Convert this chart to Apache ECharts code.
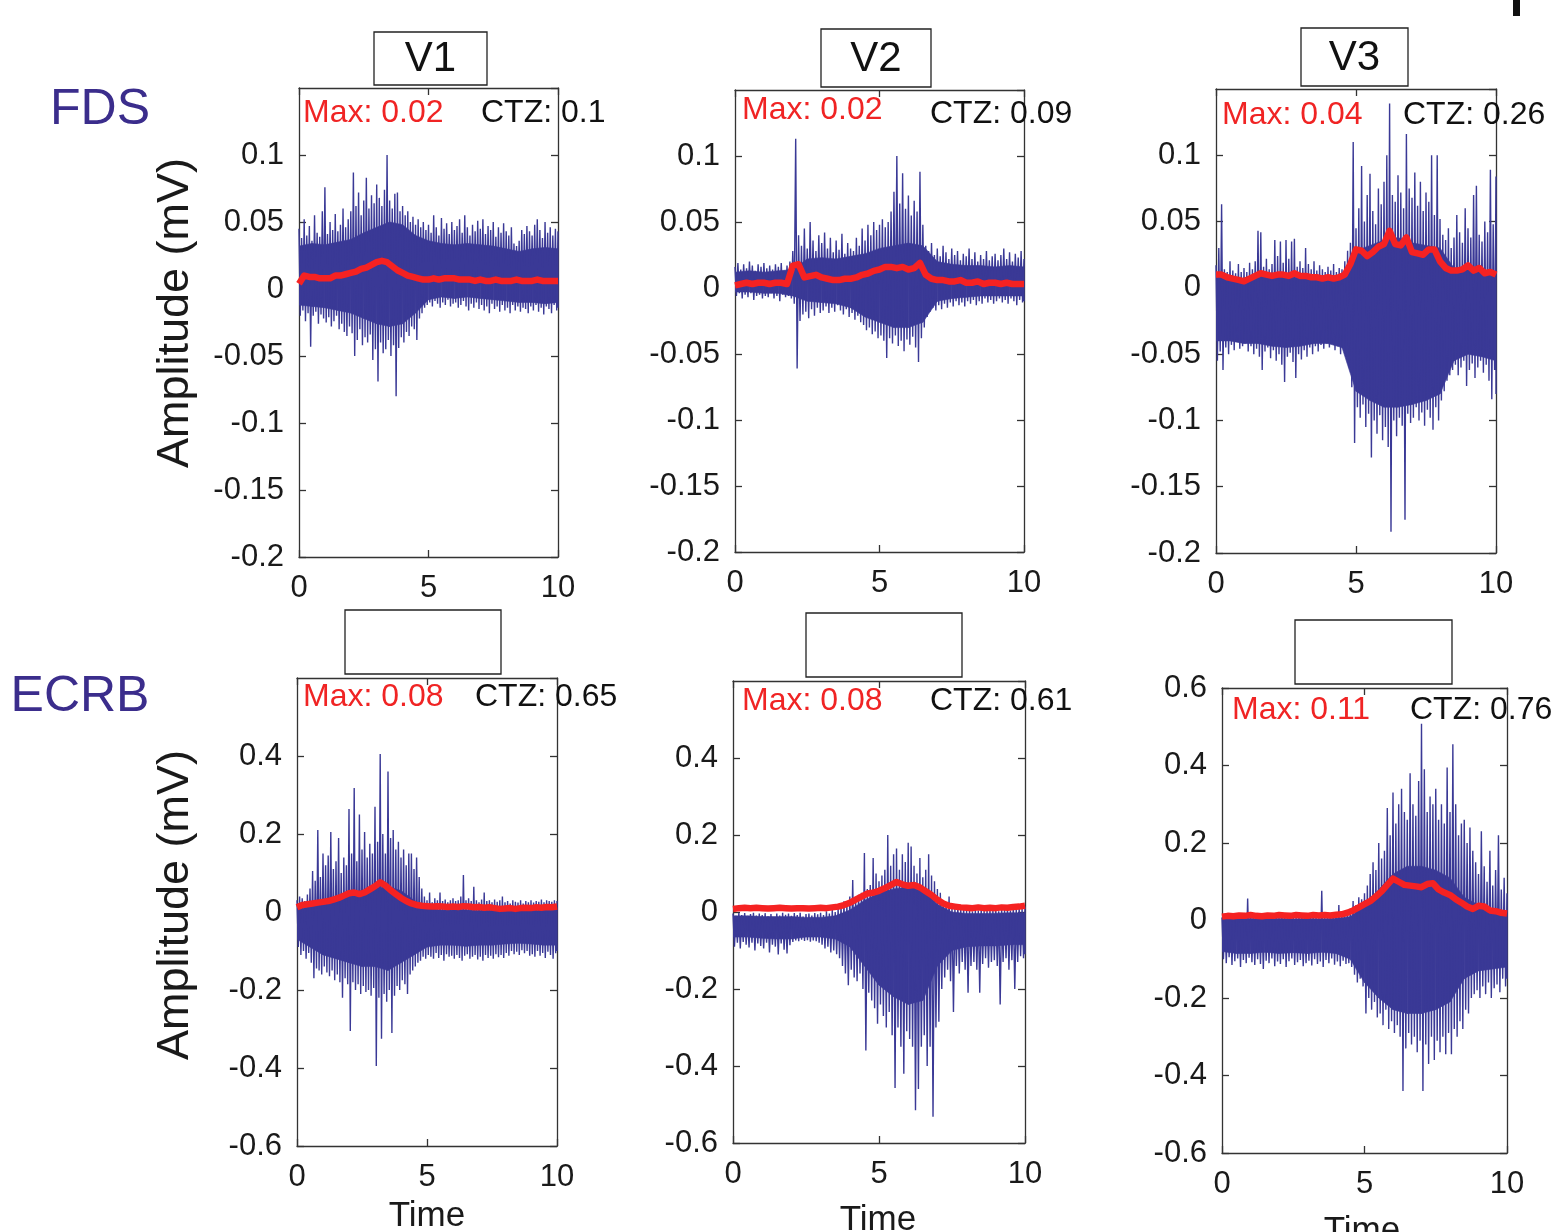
<!DOCTYPE html>
<html>
<head>
<meta charset="utf-8">
<script src="https://cdn.jsdelivr.net/npm/echarts@6/dist/echarts.min.js"></script>
<style>
html,body{margin:0;padding:0;background:#fff}
#chart{width:1557px;height:1232px}
</style>
</head>
<body>
<div id="chart"></div>
<script>
// Raw trace: per-window peak (Hi) and trough (Lo), one window every 0.1 s over 0–10 s.
// Dense body of the trace (CoreHi / CoreLo), every 0.5 s.
// Envelope (Env): RMS envelope sampled every 0.2 s.
const SAMPLE_STEP = 0.1;
const CORE_STEP = 0.5;
const ENV_STEP = 0.2;

const muscles = ['FDS', 'ECRB'];
const conditions = ['V1', 'V2', 'V3'];
const ctzValues = ['0.1', '0.09', '0.26', '0.65', '0.61', '0.76'];

// ---- FDS, V1 ----
const fdsV1Hi = [
0.045,0.038,0.052,0.040,0.047,0.036,0.055,0.042,0.039,0.058,
0.076,0.041,0.050,0.044,0.056,0.043,0.048,0.060,0.046,0.052,
0.058,0.087,0.062,0.072,0.055,0.066,0.083,0.060,0.070,0.064,
0.078,0.068,0.062,0.074,0.100,0.066,0.060,0.071,0.072,0.058,
0.062,0.055,0.058,0.050,0.054,0.048,0.052,0.046,0.050,0.044,
0.048,0.042,0.055,0.046,0.040,0.053,0.045,0.049,0.041,0.050,
0.044,0.047,0.052,0.042,0.055,0.046,0.040,0.048,0.043,0.051,
0.045,0.052,0.041,0.047,0.044,0.050,0.039,0.046,0.042,0.049,
0.043,0.040,0.046,0.034,0.032,0.036,0.044,0.041,0.047,0.043,
0.040,0.048,0.052,0.044,0.038,0.050,0.042,0.046,0.040,0.045,
0.043];
const fdsV1Lo = [
-0.020,-0.016,-0.024,-0.018,-0.043,-0.020,-0.017,-0.026,-0.019,-0.022,
-0.025,-0.021,-0.028,-0.024,-0.020,-0.030,-0.026,-0.032,-0.035,-0.028,
-0.033,-0.050,-0.038,-0.030,-0.042,-0.036,-0.040,-0.034,-0.053,-0.045,
-0.069,-0.040,-0.048,-0.045,-0.038,-0.050,-0.042,-0.080,-0.044,-0.036,
-0.040,-0.032,-0.035,-0.028,-0.030,-0.038,-0.022,-0.018,-0.014,-0.012,
-0.010,-0.013,-0.009,-0.011,-0.014,-0.010,-0.012,-0.008,-0.013,-0.011,
-0.010,-0.014,-0.012,-0.009,-0.013,-0.016,-0.011,-0.014,-0.010,-0.015,
-0.012,-0.016,-0.013,-0.018,-0.011,-0.015,-0.013,-0.017,-0.012,-0.016,
-0.014,-0.018,-0.012,-0.016,-0.013,-0.017,-0.014,-0.015,-0.018,-0.013,
-0.016,-0.012,-0.017,-0.014,-0.019,-0.013,-0.015,-0.018,-0.012,-0.016,
-0.014];
const fdsV1CoreHi = [0.032,0.034,0.033,0.035,0.037,0.042,0.046,0.050,0.048,0.040,0.036,0.034,0.033,0.034,0.033,0.032,0.030,0.028,0.030,0.031,0.030];
const fdsV1CoreLo = [-0.012,-0.013,-0.014,-0.016,-0.018,-0.022,-0.026,-0.028,-0.026,-0.018,-0.008,-0.006,-0.007,-0.006,-0.007,-0.008,-0.009,-0.010,-0.010,-0.011,-0.010];
const fdsV1Env = [
0.004,0.010,0.009,0.009,0.008,0.008,0.008,0.010,0.010,0.011,
0.012,0.013,0.015,0.016,0.018,0.020,0.021,0.020,0.017,0.014,
0.012,0.010,0.009,0.008,0.007,0.007,0.008,0.007,0.008,0.008,
0.008,0.007,0.007,0.007,0.006,0.007,0.006,0.006,0.007,0.006,
0.006,0.006,0.007,0.006,0.006,0.006,0.007,0.006,0.006,0.006,
0.006];

// ---- FDS, V2 ----
const fdsV2Hi = [
0.016,0.019,0.014,0.018,0.015,0.020,0.017,0.013,0.018,0.016,
0.019,0.015,0.017,0.014,0.018,0.016,0.019,0.013,0.017,0.020,
0.028,0.113,0.040,0.032,0.045,0.030,0.050,0.036,0.028,0.040,
0.034,0.042,0.030,0.038,0.027,0.036,0.029,0.041,0.026,0.034,
0.030,0.028,0.038,0.032,0.045,0.036,0.048,0.040,0.050,0.044,
0.048,0.052,0.046,0.050,0.058,0.073,0.100,0.064,0.087,0.060,
0.070,0.055,0.066,0.058,0.088,0.048,0.032,0.028,0.034,0.025,
0.030,0.024,0.032,0.027,0.022,0.030,0.025,0.028,0.021,0.026,
0.024,0.030,0.022,0.027,0.020,0.025,0.022,0.028,0.021,0.024,
0.026,0.021,0.025,0.030,0.022,0.027,0.020,0.026,0.023,0.028,
0.022];
const fdsV2Lo = [
-0.006,-0.004,-0.008,-0.005,-0.007,-0.004,-0.009,-0.006,-0.005,-0.008,
-0.006,-0.007,-0.004,-0.008,-0.006,-0.010,-0.005,-0.007,-0.006,-0.008,
-0.012,-0.061,-0.025,-0.020,-0.018,-0.023,-0.016,-0.021,-0.015,-0.019,
-0.017,-0.014,-0.019,-0.015,-0.018,-0.013,-0.017,-0.020,-0.016,-0.022,
-0.019,-0.024,-0.021,-0.026,-0.028,-0.032,-0.030,-0.035,-0.033,-0.038,
-0.036,-0.040,-0.053,-0.038,-0.042,-0.036,-0.044,-0.040,-0.048,-0.039,
-0.043,-0.037,-0.045,-0.056,-0.038,-0.030,-0.022,-0.018,-0.015,-0.017,
-0.013,-0.016,-0.012,-0.015,-0.011,-0.014,-0.010,-0.013,-0.011,-0.014,
-0.010,-0.012,-0.009,-0.013,-0.010,-0.012,-0.008,-0.011,-0.009,-0.012,
-0.010,-0.008,-0.011,-0.009,-0.012,-0.008,-0.010,-0.013,-0.009,-0.011,
-0.010];
const fdsV2CoreHi = [0.012,0.013,0.012,0.013,0.014,0.022,0.023,0.022,0.024,0.026,0.030,0.032,0.034,0.032,0.020,0.018,0.017,0.017,0.016,0.017,0.016];
const fdsV2CoreLo = [-0.003,-0.003,-0.004,-0.004,-0.006,-0.010,-0.011,-0.012,-0.015,-0.022,-0.026,-0.030,-0.030,-0.026,-0.010,-0.008,-0.007,-0.006,-0.006,-0.006,-0.006];
const fdsV2Env = [
0.002,0.003,0.004,0.003,0.004,0.004,0.003,0.004,0.004,0.003,
0.017,0.018,0.008,0.009,0.010,0.008,0.007,0.006,0.006,0.007,
0.007,0.008,0.010,0.011,0.013,0.014,0.016,0.016,0.015,0.016,
0.014,0.015,0.019,0.010,0.007,0.006,0.006,0.005,0.005,0.006,
0.004,0.004,0.005,0.003,0.004,0.004,0.003,0.004,0.003,0.003,
0.003];

// ---- FDS, V3 ----
const fdsV3Hi = [
0.017,0.030,0.063,0.014,0.012,0.020,0.013,0.011,0.018,0.012,
0.015,0.012,0.019,0.014,0.020,0.043,0.042,0.016,0.022,0.014,
0.018,0.036,0.024,0.035,0.019,0.036,0.022,0.035,0.037,0.016,
0.020,0.015,0.030,0.018,0.014,0.020,0.013,0.017,0.014,0.012,
0.016,0.013,0.018,0.012,0.015,0.014,0.020,0.028,0.034,0.110,
0.045,0.060,0.092,0.050,0.070,0.086,0.058,0.048,0.075,0.063,
0.080,0.100,0.139,0.070,0.065,0.085,0.072,0.060,0.116,0.075,
0.068,0.087,0.062,0.080,0.058,0.072,0.065,0.100,0.055,0.100,
0.052,0.040,0.036,0.045,0.030,0.038,0.055,0.042,0.034,0.060,
0.045,0.038,0.070,0.077,0.040,0.035,0.050,0.042,0.089,0.048,
0.084];
const fdsV3Lo = [
-0.055,-0.048,-0.062,-0.045,-0.050,-0.043,-0.047,-0.040,-0.046,-0.044,
-0.042,-0.048,-0.044,-0.050,-0.046,-0.052,-0.062,-0.048,-0.045,-0.053,
-0.047,-0.055,-0.050,-0.058,-0.071,-0.052,-0.049,-0.056,-0.068,-0.050,
-0.054,-0.047,-0.052,-0.045,-0.050,-0.044,-0.048,-0.043,-0.046,-0.042,
-0.045,-0.041,-0.047,-0.044,-0.050,-0.046,-0.052,-0.060,-0.075,-0.117,
-0.090,-0.098,-0.088,-0.105,-0.095,-0.128,-0.100,-0.110,-0.096,-0.115,
-0.105,-0.120,-0.184,-0.100,-0.112,-0.098,-0.104,-0.175,-0.095,-0.102,
-0.098,-0.090,-0.100,-0.094,-0.104,-0.092,-0.098,-0.107,-0.090,-0.100,
-0.085,-0.078,-0.070,-0.066,-0.062,-0.058,-0.066,-0.060,-0.055,-0.074,
-0.062,-0.057,-0.068,-0.060,-0.055,-0.064,-0.058,-0.070,-0.084,-0.062,
-0.080];
const fdsV3CoreHi = [0.008,0.007,0.006,0.008,0.009,0.008,0.008,0.007,0.007,0.008,0.028,0.032,0.036,0.038,0.034,0.032,0.030,0.015,0.014,0.013,0.012];
const fdsV3CoreLo = [-0.040,-0.040,-0.042,-0.042,-0.044,-0.045,-0.044,-0.042,-0.042,-0.045,-0.078,-0.085,-0.090,-0.090,-0.088,-0.085,-0.080,-0.055,-0.050,-0.052,-0.055];
const fdsV3Env = [
0.010,0.010,0.008,0.007,0.006,0.005,0.007,0.009,0.011,0.010,
0.009,0.010,0.010,0.009,0.011,0.009,0.009,0.008,0.008,0.007,
0.008,0.007,0.008,0.010,0.018,0.029,0.028,0.024,0.027,0.031,
0.033,0.043,0.033,0.032,0.038,0.027,0.026,0.025,0.029,0.029,
0.020,0.015,0.013,0.013,0.014,0.017,0.013,0.015,0.011,0.012,
0.010];

// ---- ECRB, V1 ----
const ecrbV1Hi = [
0.030,0.040,0.035,0.028,0.045,0.060,0.105,0.080,0.210,0.090,
0.150,0.120,0.145,0.205,0.110,0.130,0.190,0.100,0.140,0.120,
0.264,0.150,0.318,0.130,0.250,0.160,0.205,0.140,0.175,0.150,
0.270,0.180,0.405,0.200,0.150,0.360,0.190,0.210,0.160,0.180,
0.140,0.160,0.120,0.150,0.150,0.110,0.140,0.090,0.060,0.040,
0.030,0.050,0.025,0.035,0.030,0.050,0.028,0.032,0.025,0.030,
0.035,0.028,0.030,0.040,0.095,0.030,0.035,0.028,0.065,0.030,
0.025,0.032,0.050,0.028,0.030,0.025,0.032,0.026,0.030,0.040,
0.025,0.028,0.022,0.030,0.026,0.024,0.030,0.022,0.028,0.025,
0.030,0.024,0.028,0.026,0.032,0.025,0.030,0.028,0.026,0.030,
0.028];
const ecrbV1Lo = [
-0.090,-0.110,-0.100,-0.120,-0.105,-0.130,-0.170,-0.145,-0.150,-0.160,
-0.140,-0.155,-0.165,-0.150,-0.175,-0.160,-0.180,-0.220,-0.170,-0.185,
-0.305,-0.180,-0.200,-0.185,-0.210,-0.190,-0.205,-0.200,-0.215,-0.195,
-0.395,-0.220,-0.325,-0.210,-0.230,-0.200,-0.310,-0.215,-0.190,-0.200,
-0.175,-0.185,-0.210,-0.160,-0.150,-0.140,-0.130,-0.125,-0.115,-0.120,
-0.110,-0.115,-0.120,-0.105,-0.118,-0.110,-0.125,-0.108,-0.115,-0.112,
-0.120,-0.110,-0.118,-0.125,-0.112,-0.108,-0.120,-0.115,-0.110,-0.122,
-0.115,-0.125,-0.110,-0.118,-0.112,-0.120,-0.108,-0.116,-0.110,-0.118,
-0.105,-0.112,-0.100,-0.108,-0.102,-0.110,-0.098,-0.106,-0.100,-0.112,
-0.108,-0.115,-0.100,-0.112,-0.105,-0.118,-0.102,-0.110,-0.120,-0.106,
-0.100];
const ecrbV1CoreHi = [0.005,0.015,0.030,0.040,0.050,0.055,0.060,0.065,0.055,0.030,0.010,0.005,0.005,0.005,0.004,0.004,0.003,0.004,0.004,0.005,0.005];
const ecrbV1CoreLo = [-0.070,-0.090,-0.110,-0.120,-0.130,-0.140,-0.140,-0.150,-0.130,-0.110,-0.090,-0.085,-0.085,-0.088,-0.085,-0.085,-0.082,-0.080,-0.082,-0.085,-0.085];
const ecrbV1Env = [
0.012,0.018,0.020,0.022,0.024,0.026,0.028,0.032,0.036,0.042,
0.048,0.050,0.046,0.050,0.058,0.066,0.076,0.068,0.056,0.046,
0.036,0.028,0.022,0.018,0.016,0.015,0.014,0.015,0.014,0.013,
0.014,0.013,0.015,0.014,0.012,0.013,0.011,0.012,0.010,0.008,
0.009,0.010,0.008,0.010,0.011,0.010,0.012,0.011,0.013,0.012,
0.014];

// ---- ECRB, V2 ----
const ecrbV2Hi = [
-0.004,-0.010,-0.002,-0.008,-0.003,-0.012,-0.005,-0.002,-0.009,-0.004,
-0.008,-0.003,-0.011,-0.005,-0.014,-0.004,-0.009,-0.002,-0.007,-0.004,
-0.010,-0.003,-0.008,-0.002,-0.012,-0.005,-0.004,-0.009,-0.003,-0.006,
-0.002,-0.008,0.002,-0.004,0.005,0.000,0.010,0.018,0.028,0.022,
0.040,0.083,0.035,0.045,0.050,0.153,0.060,0.070,0.140,0.100,
0.080,0.095,0.110,0.200,0.120,0.150,0.165,0.110,0.150,0.130,
0.180,0.170,0.120,0.100,0.140,0.090,0.110,0.150,0.095,0.080,
0.060,0.050,0.030,0.020,0.040,0.015,0.010,0.020,0.008,0.012,
0.005,0.010,0.002,0.008,0.004,0.012,0.003,0.006,0.010,0.004,
0.008,0.002,0.010,0.005,0.012,0.004,0.015,0.008,0.012,0.010,
0.014];
const ecrbV2Lo = [
-0.090,-0.080,-0.095,-0.078,-0.085,-0.092,-0.080,-0.100,-0.082,-0.088,
-0.095,-0.080,-0.105,-0.085,-0.090,-0.110,-0.082,-0.098,-0.108,-0.086,
-0.078,-0.074,-0.076,-0.072,-0.075,-0.073,-0.077,-0.074,-0.076,-0.080,
-0.085,-0.095,-0.090,-0.105,-0.100,-0.110,-0.120,-0.140,-0.160,-0.190,
-0.150,-0.170,-0.180,-0.160,-0.200,-0.360,-0.210,-0.230,-0.250,-0.290,
-0.240,-0.270,-0.300,-0.260,-0.320,-0.457,-0.300,-0.350,-0.420,-0.310,
-0.330,-0.350,-0.515,-0.460,-0.350,-0.320,-0.400,-0.350,-0.532,-0.300,
-0.285,-0.200,-0.170,-0.150,-0.180,-0.260,-0.140,-0.160,-0.130,-0.150,
-0.210,-0.140,-0.130,-0.150,-0.210,-0.135,-0.120,-0.145,-0.130,-0.125,
-0.140,-0.240,-0.130,-0.120,-0.150,-0.125,-0.200,-0.130,-0.115,-0.120,
-0.110];
const ecrbV2CoreHi = [-0.010,-0.010,-0.012,-0.012,-0.012,-0.014,-0.014,-0.010,0.005,0.030,0.050,0.060,0.065,0.060,0.020,0.000,-0.004,-0.004,-0.003,-0.002,-0.002];
const ecrbV2CoreLo = [-0.065,-0.065,-0.068,-0.070,-0.070,-0.065,-0.065,-0.070,-0.090,-0.140,-0.190,-0.220,-0.240,-0.230,-0.140,-0.100,-0.090,-0.088,-0.088,-0.085,-0.085];
const ecrbV2Env = [
0.008,0.010,0.011,0.010,0.011,0.010,0.009,0.010,0.011,0.010,
0.009,0.010,0.010,0.009,0.010,0.011,0.010,0.012,0.014,0.018,
0.024,0.032,0.040,0.048,0.050,0.055,0.062,0.070,0.078,0.072,
0.068,0.070,0.064,0.054,0.044,0.032,0.022,0.016,0.014,0.012,
0.011,0.010,0.012,0.010,0.011,0.010,0.012,0.011,0.013,0.014,
0.016];

// ---- ECRB, V3 ----
const ecrbV3Hi = [
0.008,0.012,0.006,0.010,0.004,0.012,0.008,0.014,0.010,0.057,
0.010,0.006,0.012,0.008,0.014,0.010,0.006,0.012,0.008,0.011,
0.006,0.012,0.009,0.014,0.007,0.011,0.008,0.013,0.010,0.006,
0.012,0.008,0.014,0.010,0.007,0.077,0.011,0.008,0.013,0.010,
0.015,0.040,0.012,0.018,0.022,0.030,0.050,0.040,0.060,0.055,
0.070,0.090,0.120,0.150,0.130,0.200,0.160,0.180,0.290,0.220,
0.330,0.250,0.300,0.340,0.280,0.260,0.380,0.300,0.270,0.360,
0.508,0.390,0.280,0.320,0.300,0.340,0.260,0.300,0.250,0.395,
0.280,0.455,0.300,0.220,0.250,0.260,0.200,0.240,0.180,0.150,
0.120,0.230,0.140,0.100,0.180,0.090,0.130,0.220,0.080,0.110,
0.070];
const ecrbV3Lo = [
-0.100,-0.110,-0.095,-0.115,-0.105,-0.098,-0.120,-0.102,-0.110,-0.096,
-0.108,-0.115,-0.100,-0.112,-0.125,-0.104,-0.110,-0.098,-0.118,-0.106,
-0.112,-0.100,-0.120,-0.105,-0.098,-0.115,-0.108,-0.102,-0.118,-0.110,
-0.104,-0.116,-0.100,-0.112,-0.106,-0.120,-0.102,-0.110,-0.098,-0.114,
-0.106,-0.118,-0.104,-0.112,-0.110,-0.120,-0.140,-0.160,-0.150,-0.170,
-0.240,-0.200,-0.230,-0.210,-0.250,-0.240,-0.270,-0.230,-0.280,-0.260,
-0.290,-0.270,-0.300,-0.440,-0.330,-0.290,-0.320,-0.300,-0.340,-0.310,
-0.440,-0.320,-0.370,-0.300,-0.360,-0.310,-0.340,-0.300,-0.345,-0.290,
-0.345,-0.280,-0.300,-0.260,-0.280,-0.230,-0.240,-0.200,-0.190,-0.180,
-0.200,-0.170,-0.190,-0.160,-0.200,-0.175,-0.165,-0.185,-0.150,-0.170,
-0.150];
const ecrbV3CoreHi = [0.004,0.004,0.005,0.004,0.005,0.004,0.005,0.004,0.006,0.010,0.040,0.080,0.120,0.140,0.140,0.130,0.110,0.060,0.040,0.030,0.025];
const ecrbV3CoreLo = [-0.080,-0.085,-0.085,-0.082,-0.085,-0.083,-0.085,-0.082,-0.085,-0.100,-0.160,-0.200,-0.230,-0.240,-0.240,-0.230,-0.210,-0.150,-0.130,-0.125,-0.120];
const ecrbV3Env = [
0.010,0.012,0.011,0.013,0.012,0.014,0.012,0.011,0.013,0.012,
0.014,0.013,0.012,0.014,0.013,0.012,0.014,0.013,0.014,0.013,
0.015,0.016,0.020,0.026,0.034,0.042,0.050,0.062,0.075,0.092,
0.108,0.100,0.092,0.090,0.088,0.086,0.094,0.096,0.080,0.072,
0.066,0.055,0.046,0.036,0.030,0.038,0.036,0.026,0.024,0.020,
0.018];

// ---------------------------------------------------------------
const FONT = "'Liberation Sans', Arial, Helvetica, sans-serif";
const TRACE_COLOR = '#3a3996';
const ENV_COLOR = '#f52222';
const AXIS_COLOR = '#333333';
const TEXT_COLOR = '#1a1a1a';
const LABEL_COLOR = '#3b2d8c';

const fdsScale = { min: -0.2, max: 0.15, interval: 0.05 };
const ecrbScale = { min: -0.6, max: 0.6, interval: 0.2 };

const panels = [
  { hi: fdsV1Hi,  lo: fdsV1Lo,  coreHi: fdsV1CoreHi,  coreLo: fdsV1CoreLo,  env: fdsV1Env,  scale: fdsScale,  showTop: false,
    rect: { left: 299, top: 88, width: 259, height: 469 }, maxAt: [303, 113], ctzAt: [481, 113],
    box: [374, 32, 113, 53] },
  { hi: fdsV2Hi,  lo: fdsV2Lo,  coreHi: fdsV2CoreHi,  coreLo: fdsV2CoreLo,  env: fdsV2Env,  scale: fdsScale,  showTop: false,
    rect: { left: 735, top: 90, width: 289, height: 462 }, maxAt: [742, 110], ctzAt: [930, 114],
    box: [821, 29, 110, 58] },
  { hi: fdsV3Hi,  lo: fdsV3Lo,  coreHi: fdsV3CoreHi,  coreLo: fdsV3CoreLo,  env: fdsV3Env,  scale: fdsScale,  showTop: false,
    rect: { left: 1216, top: 89, width: 280, height: 464 }, maxAt: [1222, 115], ctzAt: [1403, 115],
    box: [1301, 28, 107, 58] },
  { hi: ecrbV1Hi, lo: ecrbV1Lo, coreHi: ecrbV1CoreHi, coreLo: ecrbV1CoreLo, env: ecrbV1Env, scale: ecrbScale, showTop: false,
    rect: { left: 297, top: 678, width: 260, height: 468 }, maxAt: [303, 697], ctzAt: [475, 697],
    box: [345, 610, 156, 64] },
  { hi: ecrbV2Hi, lo: ecrbV2Lo, coreHi: ecrbV2CoreHi, coreLo: ecrbV2CoreLo, env: ecrbV2Env, scale: ecrbScale, showTop: false,
    rect: { left: 733, top: 681, width: 292, height: 462 }, maxAt: [742, 701], ctzAt: [930, 701],
    box: [806, 613, 156, 64] },
  { hi: ecrbV3Hi, lo: ecrbV3Lo, coreHi: ecrbV3CoreHi, coreLo: ecrbV3CoreLo, env: ecrbV3Env, scale: ecrbScale, showTop: true,
    rect: { left: 1222, top: 688, width: 285, height: 465 }, maxAt: [1232, 710], ctzAt: [1410, 710],
    box: [1295, 620, 157, 64] }
];

// Zig-zag through each window's peak and trough so the trace reads as a raw signal.
function traceData(hi, lo) {
  const out = [];
  for (let i = 0; i < hi.length; i++) {
    const t = +(i * SAMPLE_STEP).toFixed(3);
    out.push([t, hi[i]]);
    out.push([Math.min(10, +(t + SAMPLE_STEP / 2).toFixed(3)), lo[i]]);
  }
  return out;
}
function coreData(hi, lo) {
  return hi.map((v, i) => [+(i * CORE_STEP).toFixed(3), lo[i], v]);
}
function envData(env) {
  return env.map((v, i) => [+(i * ENV_STEP).toFixed(3), v]);
}

// Filled body between two neighbouring core samples.
function renderCore(params, api) {
  const i = params.dataIndexInside;
  if (i >= params.dataInsideLength - 1) return null;
  const t0 = api.value(0, i), t1 = api.value(0, i + 1);
  const pts = [
    api.coord([t0, api.value(2, i)]),
    api.coord([t1, api.value(2, i + 1)]),
    api.coord([t1, api.value(1, i + 1)]),
    api.coord([t0, api.value(1, i)])
  ];
  return {
    type: 'polygon', shape: { points: pts },
    style: { fill: TRACE_COLOR, stroke: TRACE_COLOR, lineWidth: 0.6 }
  };
}

const grids = [], xAxes = [], yAxes = [], series = [], graphics = [];
const lineStyle = { color: AXIS_COLOR, width: 1.3 };
const tickStyle = { inside: true, length: 7, lineStyle: { color: AXIS_COLOR, width: 1.3 } };

panels.forEach((p, i) => {
  grids.push(Object.assign({ containLabel: false }, p.rect));
  xAxes.push({
    type: 'value', gridIndex: i, min: 0, max: 10, interval: 5, position: 'bottom',
    axisLine: { show: true, onZero: false, lineStyle },
    axisTick: tickStyle, splitLine: { show: false },
    axisLabel: { fontFamily: FONT, fontSize: 31, color: TEXT_COLOR, margin: 16 }
  });
  xAxes.push({
    type: 'value', gridIndex: i, min: 0, max: 10, interval: 5, position: 'top',
    axisLine: { show: true, onZero: false, lineStyle },
    axisTick: tickStyle, splitLine: { show: false }, axisLabel: { show: false }
  });
  yAxes.push({
    type: 'value', gridIndex: i, min: p.scale.min, max: p.scale.max, interval: p.scale.interval,
    position: 'left',
    axisLine: { show: true, onZero: false, lineStyle },
    axisTick: tickStyle, splitLine: { show: false },
    axisLabel: { fontFamily: FONT, fontSize: 31, color: TEXT_COLOR, margin: 15,
                 showMaxLabel: p.showTop, showMinLabel: true }
  });
  yAxes.push({
    type: 'value', gridIndex: i, min: p.scale.min, max: p.scale.max, interval: p.scale.interval,
    position: 'right',
    axisLine: { show: true, onZero: false, lineStyle },
    axisTick: tickStyle, splitLine: { show: false }, axisLabel: { show: false }
  });

  series.push({
    type: 'custom', xAxisIndex: 2 * i, yAxisIndex: 2 * i,
    data: coreData(p.coreHi, p.coreLo), renderItem: renderCore,
    encode: { x: 0, y: [1, 2] }, z: 1, clip: true, animation: false, silent: true
  });
  series.push({
    type: 'line', xAxisIndex: 2 * i, yAxisIndex: 2 * i,
    data: traceData(p.hi, p.lo), showSymbol: false, symbol: 'none',
    lineStyle: { color: TRACE_COLOR, width: 1.4 }, z: 2, clip: true, animation: false
  });
  series.push({
    type: 'line', xAxisIndex: 2 * i, yAxisIndex: 2 * i,
    data: envData(p.env), showSymbol: false, symbol: 'none',
    lineStyle: { color: ENV_COLOR, width: 6.5, join: 'round' }, z: 3, clip: true, animation: false
  });

  const peak = Math.max.apply(null, p.env);
  graphics.push({
    type: 'text', x: p.maxAt[0], y: p.maxAt[1], z: 10,
    style: { text: 'Max: ' + peak.toFixed(2), font: '32px ' + FONT, fill: '#f02424',
             align: 'left', verticalAlign: 'middle', textAlign: 'left', textVerticalAlign: 'middle' }
  });
  graphics.push({
    type: 'text', x: p.ctzAt[0], y: p.ctzAt[1], z: 10,
    style: { text: 'CTZ: ' + ctzValues[i], font: '32px ' + FONT, fill: '#111',
             align: 'left', verticalAlign: 'middle', textAlign: 'left', textVerticalAlign: 'middle' }
  });

  // condition boxes (labelled on the FDS row only)
  graphics.push({
    type: 'rect', z: 10,
    shape: { x: p.box[0], y: p.box[1], width: p.box[2], height: p.box[3] },
    style: { fill: '#fff', stroke: '#222', lineWidth: 1.3 }
  });
  if (i < 3) {
    graphics.push({
      type: 'text', x: p.box[0] + p.box[2] / 2, y: p.box[1] + p.box[3] / 2 + 1, z: 11,
      style: { text: conditions[i], font: '42px ' + FONT, fill: '#111',
               align: 'center', verticalAlign: 'middle', textAlign: 'center', textVerticalAlign: 'middle' }
    });
  }
});

// row labels
graphics.push({
  type: 'text', x: 100, y: 110, z: 10,
  style: { text: muscles[0], font: '50px ' + FONT, fill: LABEL_COLOR,
           align: 'center', verticalAlign: 'middle', textAlign: 'center', textVerticalAlign: 'middle' }
});
graphics.push({
  type: 'text', x: 80, y: 697, z: 10,
  style: { text: muscles[1], font: '50px ' + FONT, fill: LABEL_COLOR,
           align: 'center', verticalAlign: 'middle', textAlign: 'center', textVerticalAlign: 'middle' }
});
// y-axis titles
[313, 905].forEach(cy => {
  graphics.push({
    type: 'text', x: 176, y: cy, rotation: Math.PI / 2, z: 10,
    style: { text: 'Amplitude (mV)', font: '45px ' + FONT, fill: TEXT_COLOR,
             align: 'center', verticalAlign: 'middle', textAlign: 'center', textVerticalAlign: 'middle' }
  });
});
// x-axis titles
[[427, 1216], [878, 1220], [1362, 1231]].forEach(([cx, cy]) => {
  graphics.push({
    type: 'text', x: cx, y: cy, z: 10,
    style: { text: 'Time', font: '35px ' + FONT, fill: TEXT_COLOR,
             align: 'center', verticalAlign: 'middle', textAlign: 'center', textVerticalAlign: 'middle' }
  });
});
// panel-letter stub at the top right
graphics.push({
  type: 'rect', z: 10, shape: { x: 1513, y: 0, width: 7, height: 16 }, style: { fill: '#111' }
});

const chart = echarts.init(document.getElementById('chart'), null, { renderer: 'canvas' });
chart.setOption({
  backgroundColor: '#ffffff',
  animation: false,
  grid: grids,
  xAxis: xAxes,
  yAxis: yAxes,
  series: series,
  graphic: { elements: graphics }
});
</script>
</body>
</html>
